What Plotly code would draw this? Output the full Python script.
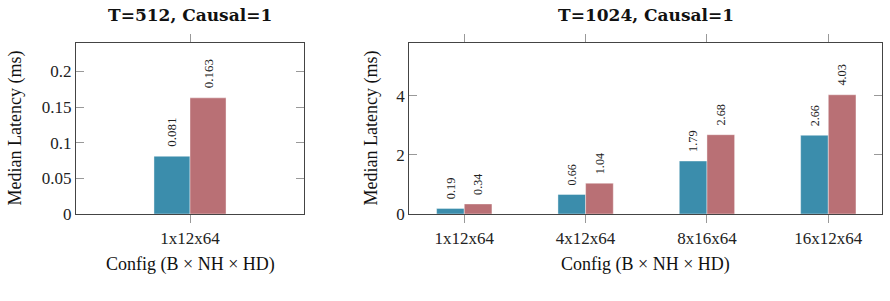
import plotly.graph_objects as go

# ---- data ----
configs_512 = ["1x12x64"]
blue_512 = [0.081]
red_512 = [0.163]

configs_1024 = ["1x12x64", "4x12x64", "8x16x64", "16x12x64"]
blue_1024 = [0.19, 0.66, 1.79, 2.66]
red_1024 = [0.34, 1.04, 2.68, 4.03]

labels_blue_512 = ["0.081"]
labels_red_512 = ["0.163"]
labels_blue_1024 = ["0.19", "0.66", "1.79", "2.66"]
labels_red_1024 = ["0.34", "1.04", "2.68", "4.03"]

BLUE = "#3b8dac"
RED = "#b97075"
FONT = "Liberation Serif"
W, H = 890, 301

fig = go.Figure()

def add_panel(cats, b, r, lb, lr, xa, ya, width):
    idx = list(range(len(cats)))
    for vals, labs, col, off in ((b, lb, BLUE, -width), (r, lr, RED, 0)):
        fig.add_trace(go.Bar(x=idx, y=vals, width=width, offset=off,
                             marker=dict(color=col, line=dict(color="rgba(255,255,255,0.5)", width=0.8)),
                             text=["\u00a0\u00a0" + t for t in labs], textposition="outside", textangle=-90,
                             texttemplate="%{text}",
                             textfont=dict(family=FONT, size=13, color="#222"), cliponaxis=False,
                             xaxis=xa, yaxis=ya, showlegend=False))

add_panel(configs_512, blue_512, red_512, labels_blue_512, labels_red_512, "x", "y", 0.158)
add_panel(configs_1024, blue_1024, red_1024, labels_blue_1024, labels_red_1024, "x2", "y2", 0.228)

y0 = 1 - 214 / H
y1 = 1 - 43 / H

axis_common = dict(showline=True, linecolor="#444", linewidth=1.2, mirror="ticks", showgrid=False,
                   zeroline=False, tickcolor="#999", ticklen=8, tickwidth=1,
                   tickfont=dict(family=FONT, size=17, color="#222"))

fig.update_layout(
    width=W, height=H, margin=dict(l=0, r=0, t=0, b=0, autoexpand=False),
    autosize=False,
    plot_bgcolor="white", paper_bgcolor="white", barmode="overlay",
    xaxis=dict(domain=[76 / W, 304 / W], anchor="y", range=[-0.5, 0.5], automargin=False,
               tickvals=list(range(len(configs_512))), ticktext=configs_512, ticks="outside", **axis_common),
    yaxis=dict(domain=[y0, y1], anchor="x", range=[0, 0.24], tickvals=[0, 0.05, 0.1, 0.15, 0.2], automargin=False,
               ticktext=["0", "0.05", "0.1", "0.15", "0.2"], ticks="inside", **axis_common),
    xaxis2=dict(domain=[409.3 / W, 882.3 / W], anchor="y2", range=[-0.453, 3.445], automargin=False,
                tickvals=list(range(len(configs_1024))), ticktext=configs_1024, ticks="outside", **axis_common),
    yaxis2=dict(domain=[y0, y1], anchor="x2", range=[0, 5.78], tickvals=[0, 2, 4], automargin=False,
                ticktext=["0", "2", "4"], ticks="inside", **axis_common),
)

ann = []
def add_text(x, y, text, size, bold=False, angle=0, family=FONT):
    ann.append(dict(x=x / W, y=1 - y / H, xref="paper", yref="paper", text=f"<b>{text}</b>" if bold else text,
                    showarrow=False, textangle=angle, xanchor="center", yanchor="middle",
                    font=dict(family=family, size=size, color="#111")))

add_text(190, 15, "T=512, Causal=1", 17, bold=True, family="DejaVu Serif")
add_text(645.8, 15, "T=1024, Causal=1", 17, bold=True, family="DejaVu Serif")
add_text(190, 264, "Config (B × NH × HD)", 18)
add_text(645.8, 264, "Config (B × NH × HD)", 18)
add_text(15, 128.5, "Median Latency (ms)", 18, angle=-90)
add_text(371, 128.5, "Median Latency (ms)", 18, angle=-90)
fig.update_layout(annotations=ann)

fig.write_html("out.html", config={"responsive": False})
